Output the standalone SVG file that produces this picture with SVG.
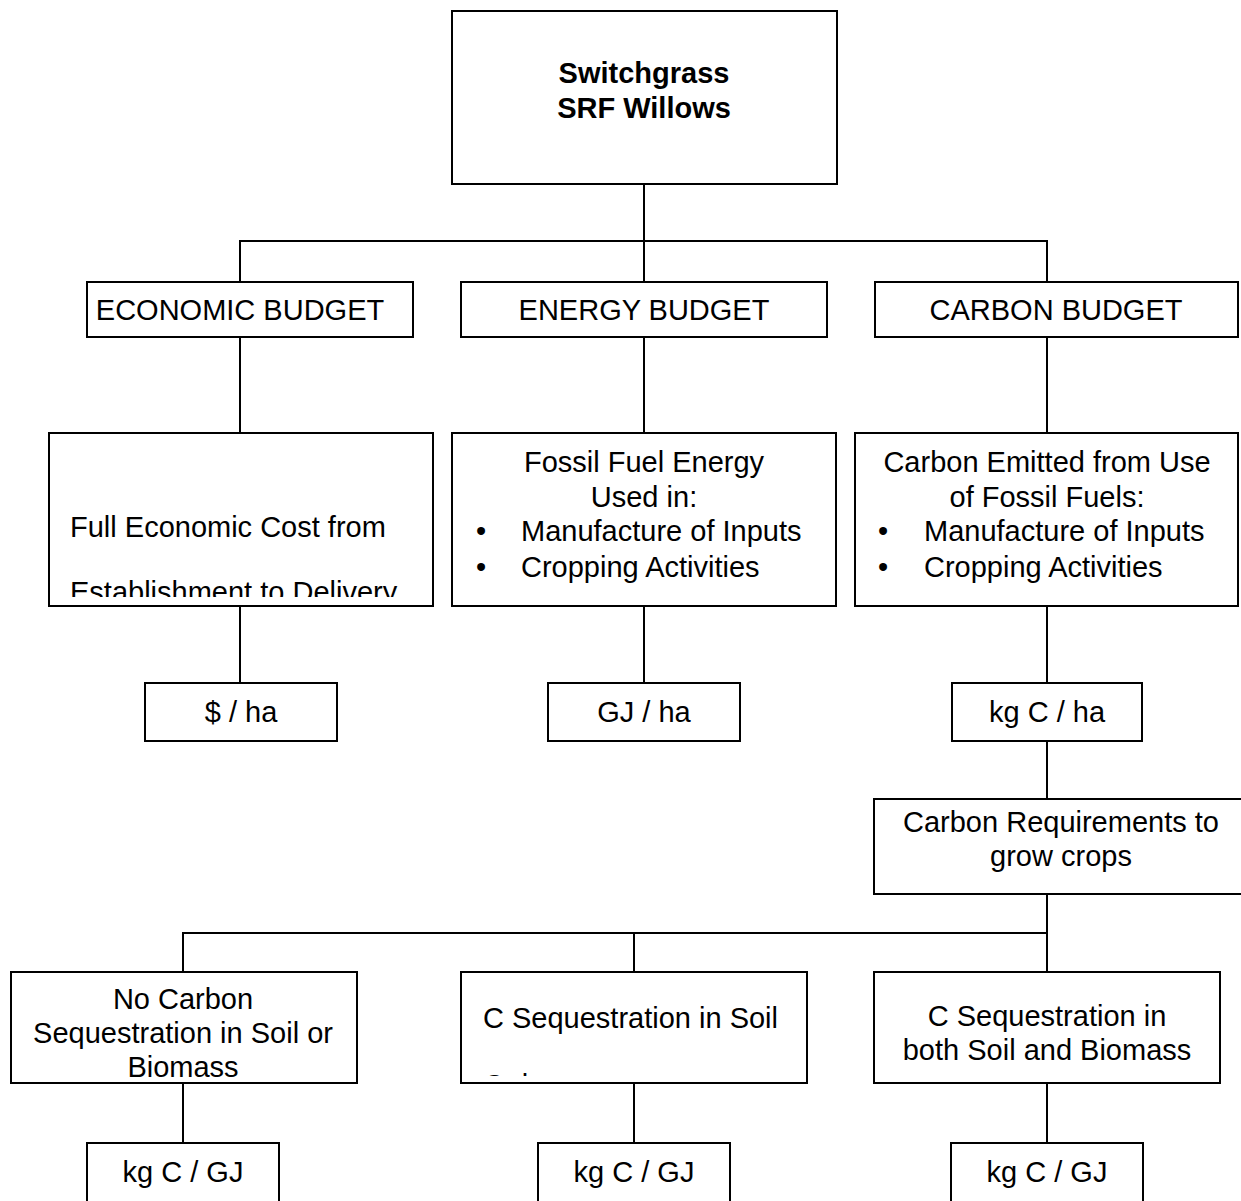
<svg xmlns="http://www.w3.org/2000/svg" width="1241" height="1201" viewBox="0 0 1241 1201">
<style>
rect.b{fill:#fff;stroke:#000;stroke-width:2}
.c line{stroke:#000;stroke-width:2}
text{font-family:"Liberation Sans",Arial,sans-serif;font-size:29px;fill:#000}
.m{text-anchor:middle}
.bold{font-weight:bold}
</style>
<defs>
<clipPath id="clipFull"><rect x="50" y="434" width="382" height="163"/></clipPath>
<clipPath id="clipSoil"><rect x="462" y="972" width="344" height="104"/></clipPath>
</defs>
<rect width="1241" height="1201" fill="#fff"/>
<g class="c" id="connectors">
<line x1="644" y1="184" x2="644" y2="241"/>
<line x1="240" y1="241" x2="1048" y2="241"/>
<line x1="240" y1="240" x2="240" y2="282"/>
<line x1="644" y1="241" x2="644" y2="282"/>
<line x1="1047" y1="240" x2="1047" y2="282"/>
<line x1="240" y1="337" x2="240" y2="433"/>
<line x1="644" y1="337" x2="644" y2="433"/>
<line x1="1047" y1="337" x2="1047" y2="433"/>
<line x1="240" y1="606" x2="240" y2="683"/>
<line x1="644" y1="606" x2="644" y2="683"/>
<line x1="1047" y1="606" x2="1047" y2="683"/>
<line x1="1047" y1="741" x2="1047" y2="799"/>
<line x1="1047" y1="894" x2="1047" y2="933"/>
<line x1="183" y1="933" x2="1048" y2="933"/>
<line x1="183" y1="932" x2="183" y2="972"/>
<line x1="634" y1="933" x2="634" y2="972"/>
<line x1="1047" y1="933" x2="1047" y2="972"/>
<line x1="183" y1="1083" x2="183" y2="1143"/>
<line x1="634" y1="1083" x2="634" y2="1143"/>
<line x1="1047" y1="1083" x2="1047" y2="1143"/>
</g>
<g id="root">
<rect class="b" x="452" y="11" width="385" height="173"/>
<text class="m bold" x="644" y="83">Switchgrass</text>
<text class="m bold" x="644" y="118">SRF Willows</text>
</g>
<g id="economic">
<rect class="b" x="87" y="282" width="326" height="55"/>
<text class="m" x="240" y="320">ECONOMIC BUDGET</text>
</g>
<g id="energy">
<rect class="b" x="461" y="282" width="366" height="55"/>
<text class="m" x="644" y="320">ENERGY BUDGET</text>
</g>
<g id="carbon">
<rect class="b" x="875" y="282" width="363" height="55"/>
<text class="m" x="1056" y="320">CARBON BUDGET</text>
</g>
<g id="fullcost">
<rect class="b" x="49" y="433" width="384" height="173"/>
<g clip-path="url(#clipFull)">
<text x="70" y="537">Full Economic Cost from</text>
<text x="70" y="602">Establishment to Delivery</text>
</g>
</g>
<g id="fossil">
<rect class="b" x="452" y="433" width="384" height="173"/>
<text class="m" x="644" y="472">Fossil Fuel Energy</text>
<text class="m" x="644" y="507">Used in:</text>
<text x="476" y="541">•</text>
<text x="521" y="541">Manufacture of Inputs</text>
<text x="476" y="577">•</text>
<text x="521" y="577">Cropping Activities</text>
</g>
<g id="emitted">
<rect class="b" x="855" y="433" width="383" height="173"/>
<text class="m" x="1047" y="472">Carbon Emitted from Use</text>
<text class="m" x="1047" y="507">of Fossil Fuels:</text>
<text x="878" y="541">•</text>
<text x="924" y="541">Manufacture of Inputs</text>
<text x="878" y="577">•</text>
<text x="924" y="577">Cropping Activities</text>
</g>
<g id="usdha">
<rect class="b" x="145" y="683" width="192" height="58"/>
<text class="m" x="241" y="722">$ / ha</text>
</g>
<g id="gjha">
<rect class="b" x="548" y="683" width="192" height="58"/>
<text class="m" x="644" y="722">GJ / ha</text>
</g>
<g id="kgcha">
<rect class="b" x="952" y="683" width="190" height="58"/>
<text class="m" x="1047" y="722">kg C / ha</text>
</g>
<g id="carbonreq">
<rect class="b" x="874" y="799" width="380" height="95"/>
<text class="m" x="1061" y="832">Carbon Requirements to</text>
<text class="m" x="1061" y="866">grow crops</text>
</g>
<g id="noseq">
<rect class="b" x="11" y="972" width="346" height="111"/>
<text class="m" x="183" y="1009">No Carbon</text>
<text class="m" x="183" y="1043">Sequestration in Soil or</text>
<text class="m" x="183" y="1077">Biomass</text>
</g>
<g id="soilonly">
<rect class="b" x="461" y="972" width="346" height="111"/>
<g clip-path="url(#clipSoil)">
<text x="483" y="1028">C Sequestration in Soil</text>
<text x="483" y="1095">Only</text>
</g>
</g>
<g id="both">
<rect class="b" x="874" y="972" width="346" height="111"/>
<text class="m" x="1047" y="1026">C Sequestration in</text>
<text class="m" x="1047" y="1060">both Soil and Biomass</text>
</g>
<g id="gj1">
<rect class="b" x="87" y="1143" width="192" height="70"/>
<text class="m" x="183" y="1182">kg C / GJ</text>
</g>
<g id="gj2">
<rect class="b" x="538" y="1143" width="192" height="70"/>
<text class="m" x="634" y="1182">kg C / GJ</text>
</g>
<g id="gj3">
<rect class="b" x="951" y="1143" width="192" height="70"/>
<text class="m" x="1047" y="1182">kg C / GJ</text>
</g>
</svg>
